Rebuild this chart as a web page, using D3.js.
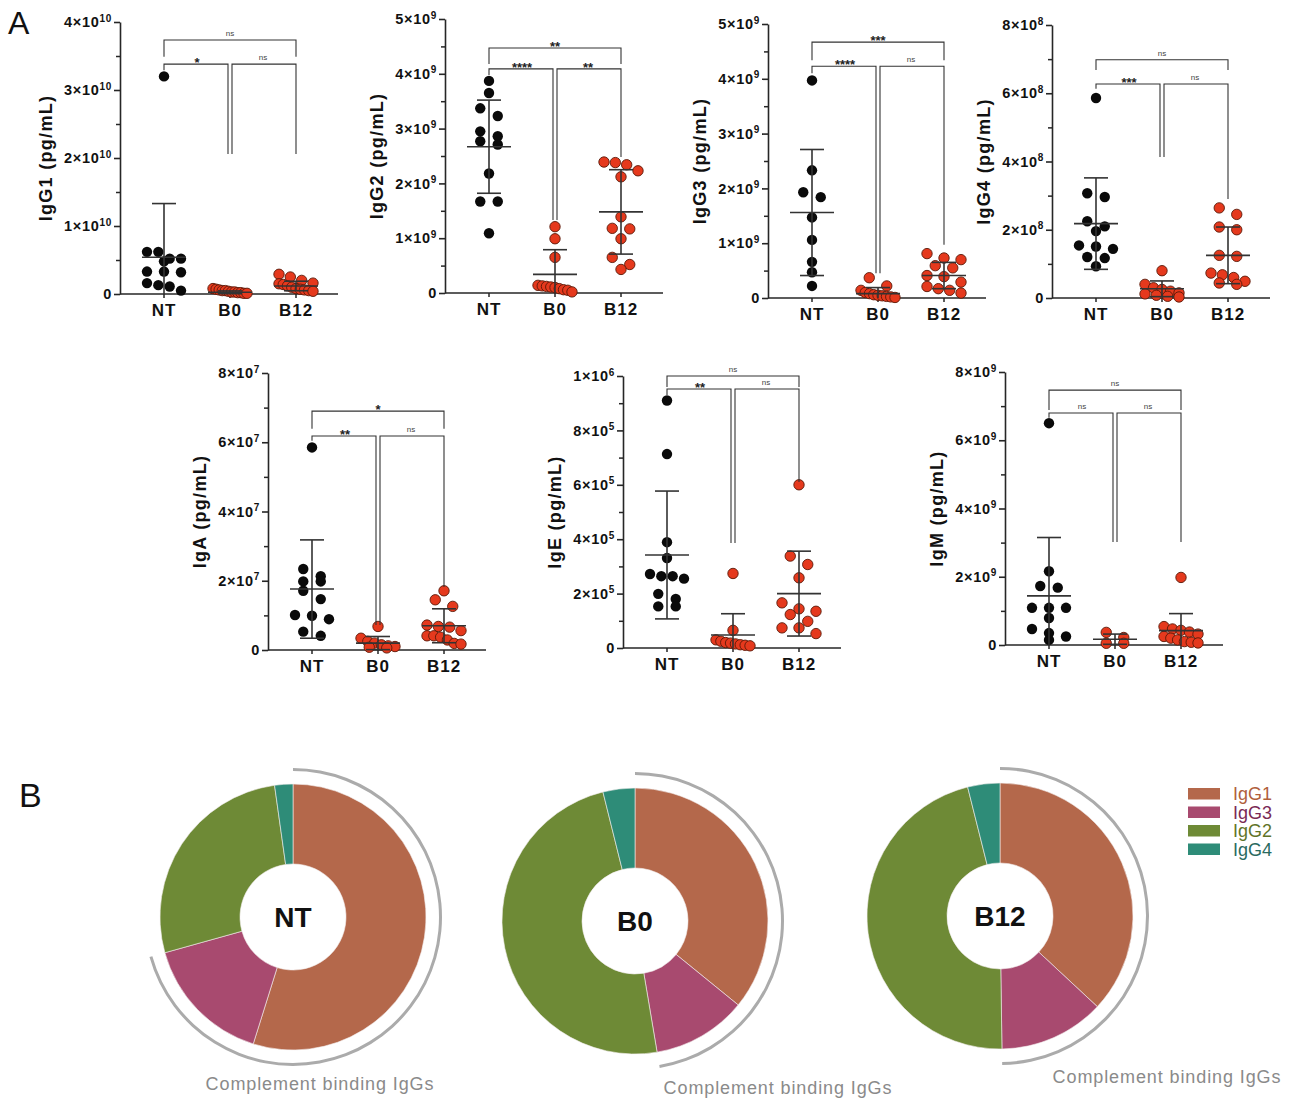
<!DOCTYPE html>
<html><head><meta charset="utf-8">
<script src="https://cdn.jsdelivr.net/npm/d3@7"></script>
<style>
body{margin:0;background:#fff;}
svg text{font-family:"Liberation Sans",Arial,Helvetica,sans-serif;}
</style></head><body>
<svg id="chart" width="1295" height="1098"></svg>
<script>
// ---------------- DATA ----------------
const groups = ["NT", "B0", "B12"];
const panels = ["IgG1", "IgG2", "IgG3", "IgG4", "IgA", "IgE", "IgM"];

const IgG1_NT  = [3.2e10, 0.62e10, 0.62e10, 0.52e10, 0.52e10, 0.48e10, 0.33e10, 0.33e10, 0.32e10, 0.16e10, 0.13e10, 0.11e10, 0.05e10];
const IgG1_B0  = [0.08e10, 0.07e10, 0.06e10, 0.05e10, 0.05e10, 0.04e10, 0.03e10, 0.03e10, 0.02e10, 0.02e10, 0.01e10, 0.01e10];
const IgG1_B12 = [0.29e10, 0.25e10, 0.20e10, 0.16e10, 0.15e10, 0.14e10, 0.12e10, 0.10e10, 0.08e10, 0.07e10, 0.06e10, 0.05e10, 0.04e10];
const IgG1_mean = [0.54e10, 0.025e10, 0.118e10];
const IgG1_sd   = [0.79e10, 0.02e10, 0.07e10];

const IgG2_NT  = [3.87e9, 3.65e9, 3.37e9, 3.23e9, 2.95e9, 2.86e9, 2.77e9, 2.71e9, 2.18e9, 1.67e9, 1.67e9, 1.09e9];
const IgG2_B0  = [1.21e9, 0.99e9, 0.65e9, 0.14e9, 0.13e9, 0.12e9, 0.11e9, 0.10e9, 0.08e9, 0.06e9, 0.05e9, 0.02e9];
const IgG2_B12 = [2.39e9, 2.38e9, 2.34e9, 2.23e9, 2.12e9, 1.39e9, 1.18e9, 1.17e9, 0.99e9, 0.65e9, 0.52e9, 0.43e9];
const IgG2_mean = [2.67e9, 0.34e9, 1.48e9];
const IgG2_sd   = [0.85e9, 0.45e9, 0.77e9];

const IgG3_NT  = [3.97e9, 2.33e9, 1.93e9, 1.84e9, 1.47e9, 1.06e9, 0.66e9, 0.47e9, 0.22e9];
const IgG3_B0  = [0.37e9, 0.22e9, 0.14e9, 0.10e9, 0.08e9, 0.06e9, 0.05e9, 0.04e9, 0.03e9, 0.02e9, 0.01e9];
const IgG3_B12 = [0.81e9, 0.73e9, 0.70e9, 0.59e9, 0.55e9, 0.41e9, 0.39e9, 0.29e9, 0.21e9, 0.17e9, 0.14e9, 0.09e9];
const IgG3_mean = [1.56e9, 0.08e9, 0.41e9];
const IgG3_sd   = [1.15e9, 0.11e9, 0.24e9];

const IgG4_NT  = [5.86e8, 3.07e8, 2.96e8, 2.25e8, 2.10e8, 1.96e8, 1.54e8, 1.51e8, 1.44e8, 1.20e8, 1.17e8, 0.93e8];
const IgG4_B0  = [0.80e8, 0.40e8, 0.30e8, 0.25e8, 0.20e8, 0.15e8, 0.12e8, 0.08e8, 0.05e8, 0.03e8];
const IgG4_B12 = [2.64e8, 2.45e8, 2.08e8, 2.00e8, 1.25e8, 1.22e8, 0.73e8, 0.68e8, 0.60e8, 0.49e8, 0.44e8, 0.40e8];
const IgG4_mean = [2.18e8, 0.27e8, 1.25e8];
const IgG4_sd   = [1.34e8, 0.23e8, 0.83e8];

const IgA_NT  = [5.85e7, 2.34e7, 2.13e7, 1.98e7, 1.98e7, 1.71e7, 1.47e7, 1.01e7, 0.99e7, 0.89e7, 0.53e7, 0.41e7];
const IgA_B0  = [0.68e7, 0.34e7, 0.25e7, 0.20e7, 0.15e7, 0.12e7, 0.10e7, 0.08e7, 0.06e7];
const IgA_B12 = [1.71e7, 1.45e7, 1.26e7, 0.72e7, 0.68e7, 0.66e7, 0.56e7, 0.41e7, 0.41e7, 0.37e7, 0.29e7, 0.19e7, 0.17e7];
const IgA_mean = [1.76e7, 0.20e7, 0.70e7];
const IgA_sd   = [1.42e7, 0.19e7, 0.49e7];

const IgE_NT  = [9.1e5, 7.13e5, 3.89e5, 3.31e5, 2.72e5, 2.64e5, 2.64e5, 2.55e5, 1.99e5, 1.80e5, 1.53e5, 1.53e5];
const IgE_B0  = [2.74e5, 0.65e5, 0.30e5, 0.25e5, 0.20e5, 0.18e5, 0.15e5, 0.12e5, 0.10e5, 0.08e5];
const IgE_B12 = [6.0e5, 3.38e5, 3.07e5, 2.58e5, 1.66e5, 1.44e5, 1.35e5, 1.23e5, 0.98e5, 0.74e5, 0.74e5, 0.53e5];
const IgE_mean = [3.42e5, 0.48e5, 2.0e5];
const IgE_sd   = [2.35e5, 0.78e5, 1.56e5];

const IgM_NT  = [6.5e9, 2.16e9, 1.73e9, 1.68e9, 1.09e9, 1.09e9, 1.09e9, 0.79e9, 0.47e9, 0.35e9, 0.25e9, 0.15e9];
const IgM_B0  = [0.37e9, 0.22e9, 0.05e9, 0.05e9];
const IgM_B12 = [1.98e9, 0.54e9, 0.47e9, 0.43e9, 0.38e9, 0.32e9, 0.25e9, 0.20e9, 0.15e9, 0.10e9, 0.08e9, 0.06e9];
const IgM_mean = [1.44e9, 0.17e9, 0.42e9];
const IgM_sd   = [1.71e9, 0.15e9, 0.50e9];

// y axis maxima and major tick steps
const yMax  = [4e10, 5e9, 5e9, 8e8, 8e7, 1e6, 8e9];
const yStep = [1e10, 1e9, 1e9, 2e8, 2e7, 2e5, 2e9];

// significance labels: [NT vs B0, B0 vs B12, NT vs B12]
const sigLabels = [
  ["*", "ns", "ns"], ["****", "**", "**"], ["****", "ns", "***"], ["***", "ns", "ns"],
  ["**", "ns", "*"], ["**", "ns", "ns"], ["ns", "ns", "ns"]
];
// bracket levels (data units): [top line, top drop end, lower line, NT drop end, B0 drop end, B12 drop end]
const brackets = [
  [3.735e10, 3.49e10, 3.38e10, 3.29e10, 2.06e10, 2.06e10],
  [4.47e9, 4.18e9, 4.09e9, 3.98e9, 1.33e9, 2.48e9],
  [4.67e9, 4.34e9, 4.23e9, 4.10e9, 0.45e9, 0.97e9],
  [6.98e8, 6.68e8, 6.27e8, 6.13e8, 4.13e8, 2.90e8],
  [6.9e7, 6.39e7, 6.18e7, 6.04e7, 0.72e7, 1.82e7],
  [1.0e6, 0.96e6, 0.952e6, 0.93e6, 0.386e6, 0.61e6],
  [7.47e9, 6.89e9, 6.80e9, 6.66e9, 3.02e9, 3.02e9]
];

// donut: subclasses in drawing order
const subclasses = ["IgG1", "IgG3", "IgG2", "IgG4"];
const subclassColors = ["#b4684b", "#a84a6f", "#6e8a36", "#2e8c78"];
const legendTextColors = ["#b0603c", "#7a2a55", "#5f7428", "#2a6a60"];
const complementLabel = "Complement binding IgGs";

// lookup tables built from the arrays above
const values = {
  IgG1: [IgG1_NT, IgG1_B0, IgG1_B12], IgG2: [IgG2_NT, IgG2_B0, IgG2_B12],
  IgG3: [IgG3_NT, IgG3_B0, IgG3_B12], IgG4: [IgG4_NT, IgG4_B0, IgG4_B12],
  IgA: [IgA_NT, IgA_B0, IgA_B12], IgE: [IgE_NT, IgE_B0, IgE_B12], IgM: [IgM_NT, IgM_B0, IgM_B12]
};
const means = {IgG1: IgG1_mean, IgG2: IgG2_mean, IgG3: IgG3_mean, IgG4: IgG4_mean, IgA: IgA_mean, IgE: IgE_mean, IgM: IgM_mean};
const sds = {IgG1: IgG1_sd, IgG2: IgG2_sd, IgG3: IgG3_sd, IgG4: IgG4_sd, IgA: IgA_sd, IgE: IgE_sd, IgM: IgM_sd};

// ---------------- LAYOUT ----------------
const layout = [
  {x: 120, top: 22, zero: 294}, {x: 445, top: 19, zero: 293}, {x: 768, top: 24, zero: 298},
  {x: 1052, top: 25, zero: 298}, {x: 268, top: 373, zero: 650}, {x: 623, top: 376, zero: 648},
  {x: 1005, top: 372, zero: 645}
];
const donutLayout = [
  {cx: 293, cy: 917, tx: 27, ty: 173}, {cx: 635, cy: 921, tx: 143, ty: 173}, {cx: 1000, cy: 916, tx: 167, ty: 167}
];

const svg = d3.select("#chart");
const INK = "#262626";
const RED = "#e5391d";

function sci(v) {
  const e = Math.floor(Math.log10(v) + 1e-9);
  const m = Math.round(v / Math.pow(10, e));
  return {m, e};
}

panels.forEach((name, i) => {
  const L = layout[i];
  const g = svg.append("g");
  const y = d3.scaleLinear().domain([0, yMax[i]]).range([L.zero, L.top]);
  const x = d3.scalePoint().domain(groups).range([L.x + 44, L.x + 176]);
  const majors = d3.range(0, yMax[i] + yStep[i] / 2, yStep[i]);
  const minors = majors.slice(0, -1).map(v => v + yStep[i] / 2);

  // minor ticks
  g.append("g").attr("transform", `translate(${L.x},0)`)
    .call(d3.axisLeft(y).tickValues(minors).tickSize(4).tickFormat(""))
    .call(s => s.select(".domain").remove())
    .call(s => s.selectAll("line").attr("stroke", INK).attr("stroke-width", 1.5));
  // major axis
  const ya = g.append("g").attr("transform", `translate(${L.x},0)`)
    .call(d3.axisLeft(y).tickValues(majors).tickSize(6).tickSizeOuter(0).tickPadding(2));
  ya.select(".domain").attr("stroke", INK).attr("stroke-width", 1.6);
  ya.selectAll(".tick line").attr("stroke", INK).attr("stroke-width", 1.6);
  ya.selectAll(".tick text").each(function(d) {
    const t = d3.select(this);
    t.text(null).attr("fill", "#111").attr("font-size", 14.5).attr("font-weight", "bold").attr("letter-spacing", 0.7);
    if (d === 0) { t.text("0"); return; }
    const s = sci(d);
    t.append("tspan").text(s.m + "×10");
    t.append("tspan").attr("dy", "-0.55em").attr("font-size", "10px").text(s.e);
  });
  let maxW = 0;
  ya.selectAll(".tick text").each(function() { maxW = Math.max(maxW, this.getBBox().width); });

  // x axis
  g.append("line").attr("x1", L.x).attr("x2", L.x + 218).attr("y1", L.zero).attr("y2", L.zero)
    .attr("stroke", INK).attr("stroke-width", 1.6);
  groups.forEach(c => {
    g.append("line").attr("x1", x(c)).attr("x2", x(c)).attr("y1", L.zero).attr("y2", L.zero + 4)
      .attr("stroke", INK).attr("stroke-width", 1.5);
    g.append("text").attr("x", x(c)).attr("y", L.zero + 22).attr("text-anchor", "middle")
      .attr("font-size", 17).attr("font-weight", "bold").attr("letter-spacing", 1).attr("fill", "#111").text(c);
  });

  // y title
  const tx = L.x - maxW - 26, ty = (L.top + L.zero) / 2;
  g.append("text").attr("transform", `translate(${tx},${ty}) rotate(-90)`)
    .attr("text-anchor", "middle").attr("dominant-baseline", "central")
    .attr("font-size", 18).attr("font-weight", "bold").attr("letter-spacing", 1.3).attr("fill", "#111")
    .text(name + " (pg/mL)");

  // points (rows of near-equal values spread horizontally)
  groups.forEach((c, gi) => {
    const pts = values[name][gi].map(v => ({v, py: y(v)})).sort((a, b) => a.py - b.py);
    const rows = []; let cur = null;
    pts.forEach(p => {
      if (!cur || p.py - cur.start > 9) { cur = {start: p.py, pts: []}; rows.push(cur); }
      cur.pts.push(p);
    });
    rows.forEach(r => {
      const n = r.pts.length;
      const s = n > 1 ? Math.min(17.5, 34 / (n - 1)) : 0;
      r.pts.forEach((p, k) => p.px = x(c) + (k - (n - 1) / 2) * s);
    });
    g.selectAll(null).data(pts).join("circle")
      .attr("cx", p => p.px).attr("cy", p => p.py).attr("r", 5.2)
      .attr("fill", gi === 0 ? "#0a0a0a" : RED)
      .attr("stroke", gi === 0 ? "none" : "#5a1808").attr("stroke-width", 0.9);
  });

  // error bars (mean ± SD)
  groups.forEach((c, gi) => {
    const m = means[name][gi], sd = sds[name][gi];
    const lo = m - sd, hi = m + sd, cx = x(c);
    const eb = g.append("g").attr("stroke", "#333").attr("stroke-width", 1.6);
    eb.append("line").attr("x1", cx).attr("x2", cx).attr("y1", y(Math.max(0, lo))).attr("y2", y(hi));
    eb.append("line").attr("x1", cx - 22).attr("x2", cx + 22).attr("y1", y(m)).attr("y2", y(m));
    eb.append("line").attr("x1", cx - 12).attr("x2", cx + 12).attr("y1", y(hi)).attr("y2", y(hi));
    if (lo >= 0) eb.append("line").attr("x1", cx - 12).attr("x2", cx + 12).attr("y1", y(lo)).attr("y2", y(lo));
  });

  // significance brackets
  const b = brackets[i], lab = sigLabels[i];
  const xn = x("NT"), x0 = x("B0"), x12 = x("B12");
  const bg = g.append("g").attr("stroke", "#333").attr("stroke-width", 1.1).attr("fill", "none");
  bg.append("path").attr("d", `M${xn},${y(b[1])}V${y(b[0])}H${x12}V${y(b[1])}`);
  bg.append("path").attr("d", `M${xn},${y(b[3])}V${y(b[2])}H${x0 - 2}V${y(b[4])}`);
  bg.append("path").attr("d", `M${x0 + 2},${y(b[4])}V${y(b[2])}H${x12}V${y(b[5])}`);
  const addLab = (t, lx, ly) => {
    const ns = t === "ns";
    g.append("text").attr("x", lx).attr("y", ns ? ly - 4 : ly + 3).attr("text-anchor", "middle")
      .attr("font-size", ns ? 8 : 13).attr("font-weight", ns ? "normal" : "bold")
      .attr("fill", ns ? "#444" : "#222").text(t);
  };
  addLab(lab[0], (xn + x0) / 2, y(b[2]));
  addLab(lab[1], (x0 + x12) / 2, y(b[2]));
  addLab(lab[2], x0, y(b[0]));
});

// panel letters
svg.append("text").attr("x", 8).attr("y", 34).attr("font-size", 32).attr("fill", "#111").text("A");
svg.append("text").attr("x", 19).attr("y", 807).attr("font-size", 34).attr("fill", "#111").text("B");

// ---------------- DONUTS ----------------
const pie = d3.pie().sort(null).startAngle(0).endAngle(2 * Math.PI);
const arc = d3.arc().innerRadius(53).outerRadius(133);
groups.forEach((c, gi) => {
  const D = donutLayout[gi];
  const vals = subclasses.map(s => means[s][gi]);
  const arcs = pie(vals);
  const g = svg.append("g").attr("transform", `translate(${D.cx},${D.cy})`);
  g.selectAll(null).data(arcs).join("path").attr("d", arc)
    .attr("fill", (d, k) => subclassColors[k]).attr("stroke", "#f3eeee").attr("stroke-width", 0.6);
  // complement-binding arc (IgG1 + IgG3)
  const endA = arcs[1].endAngle;
  g.append("path").attr("d", d3.arc().innerRadius(146).outerRadius(149)({startAngle: 0, endAngle: endA}))
    .attr("fill", "#ababab");
  g.append("text").attr("x", 0).attr("y", 10).attr("text-anchor", "middle")
    .attr("font-size", 28).attr("font-weight", "bold").attr("fill", "#111").text(c);
  g.append("text").attr("x", D.tx).attr("y", D.ty).attr("text-anchor", "middle")
    .attr("font-size", 18).attr("letter-spacing", 0.9).attr("fill", "#8a8a8a").text(complementLabel);
});

// legend
const lg = svg.append("g").attr("transform", "translate(1188,788)");
subclasses.forEach((s, k) => {
  lg.append("rect").attr("x", 0).attr("y", k * 18.5).attr("width", 32).attr("height", 11.5).attr("fill", subclassColors[k]);
  lg.append("text").attr("x", 45).attr("y", k * 18.5 + 12).attr("font-size", 18).attr("fill", legendTextColors[k]).text(s);
});
</script>
</body></html>
